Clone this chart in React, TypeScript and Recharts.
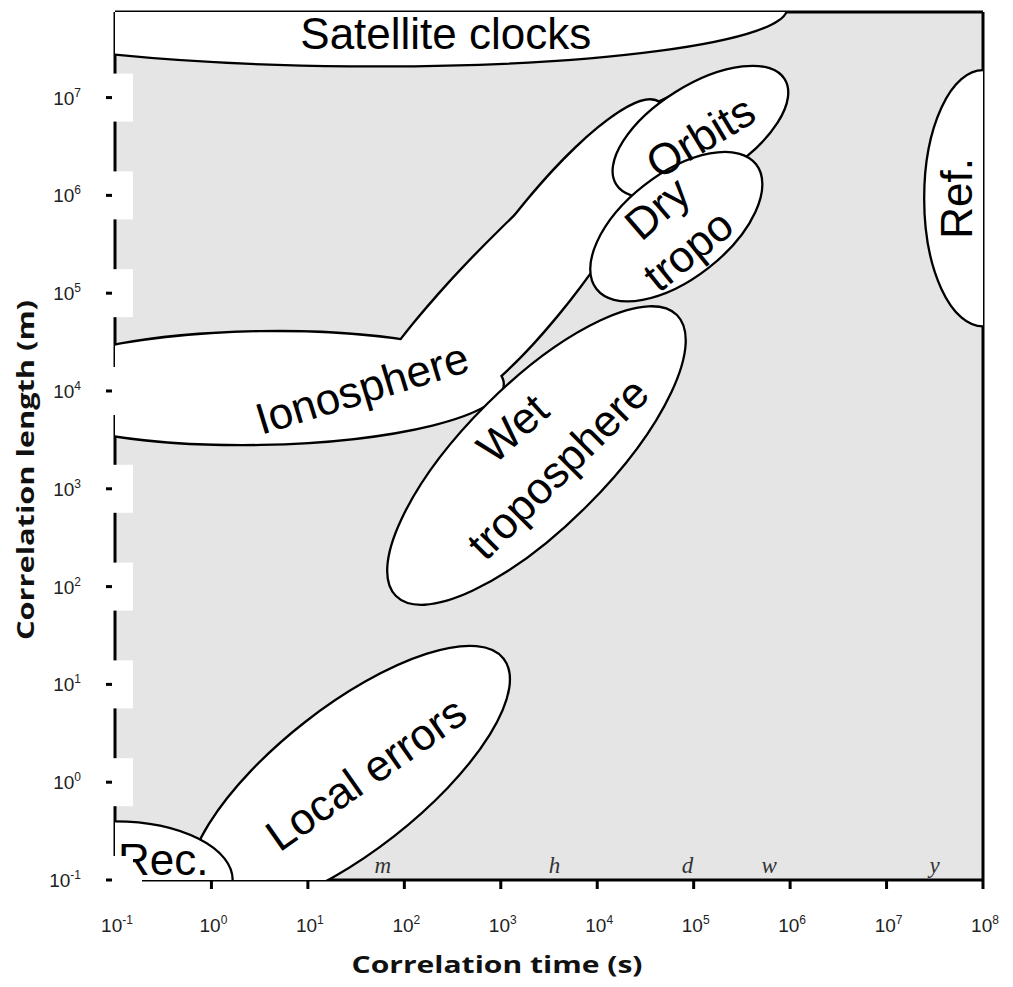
import React from 'react';
import * as Recharts from 'recharts';

const { ComposedChart, Scatter, XAxis, YAxis, CartesianGrid, ReferenceLine } = Recharts;
const R: any = Recharts;

// ---- axes (log10 units) ----
const T_MIN = -1;
const T_MAX = 8;
const L_MIN = -1;
const L_MAX = 7.875;
const T_TICKS = [-1, 0, 1, 2, 3, 4, 5, 6, 7, 8];
const L_TICKS = [-1, 0, 1, 2, 3, 4, 5, 6, 7];

// ---- error sources: centre (log10 s, log10 m), semi-axes in decades, tilt in degrees ----
const SOURCES = ['Orbits', 'Dry tropo', 'Wet troposphere', 'Local errors', 'Satellite clocks', 'Ref.', 'Rec.'];
const CENTER_T = [5.07, 4.82, 3.37, 1.43, 1.44, 8.0, -1.0];
const CENTER_L = [6.65, 5.68, 3.34, 0.03, 7.95, 5.97, -1.0];
const SEMI_MAJOR = [1.03, 1.05, 2.06, 2.03, 4.53, 0.61, 1.22];
const SEMI_MINOR = [0.48, 0.535, 0.73, 0.74, 0.63, 1.31, 0.6];
const TILT = [-32, -38, -45, -38, 0.5, 0, 0];

// ionosphere region = union of three lobes
const IONO_T = [0.5, 3.425, 3.27];
const IONO_L = [4.03, 5.354, 5.36];
const IONO_MAJOR = [2.52, 2.02, 2.39];
const IONO_MINOR = [0.57, 0.48, 0.39];
const IONO_TILT = [-1, -53, -44.5];

// region labels
const LABELS = ['Satellite clocks', 'Ionosphere', 'Orbits', 'Dry', 'tropo', 'Wet', 'troposphere', 'Local errors', 'Rec.', 'Ref.'];
const LABEL_T = [2.43, 1.56, 5.07, 4.62, 4.94, 3.12, 3.59, 1.6, -0.5, 7.73];
const LABEL_L = [7.66, 4.03, 6.6, 5.87, 5.44, 3.62, 3.21, 0.09, -0.79, 5.97];
const LABEL_TILT = [0, -17, -31, -41, -39, -42, -45, -35, 0, -90];

// time units marked along the bottom
const UNITS = ['m', 'h', 'd', 'w', 'y'];
const UNIT_SECONDS = [60, 3600, 86400, 604800, 31557600];

// ---- layout ----
const CHART_W = 997;
const CHART_H = 971;
const MARGIN = { top: 4, right: 22, bottom: 0, left: 0 };
const Y_AXIS_W = 107;
const X_AXIS_H = 99;
const SANS = '"Liberation Sans", Arial, Helvetica, sans-serif';
const TITLE_FONT = '"Open Sans", "Liberation Sans", sans-serif';
const GREY = '#e5e5e5';

function usePixelsPerDecade() {
  const area = R.usePlotArea ? R.usePlotArea() : null;
  const w = area && area.width ? area.width : CHART_W - MARGIN.left - MARGIN.right - Y_AXIS_W;
  const h = area && area.height ? area.height : CHART_H - MARGIN.top - MARGIN.bottom - X_AXIS_H;
  return { kx: w / (T_MAX - T_MIN), ky: h / (L_MAX - L_MIN) };
}

function Blob({ cx, cy, payload, pass }: any) {
  const { kx, ky } = usePixelsPerDecade();
  if (cx == null || cy == null) return null;
  const common = {
    cx,
    cy,
    rx: payload.a * kx,
    ry: payload.b * ky,
    transform: `rotate(${payload.tilt} ${cx} ${cy})`,
  };
  if (pass === 'outline') return <ellipse {...common} fill="none" stroke="#000" strokeWidth={4.6} />;
  if (pass === 'fill') return <ellipse {...common} fill="#fff" stroke="none" />;
  return <ellipse {...common} fill="#fff" stroke="#000" strokeWidth={2.3} />;
}

function RegionLabel({ cx, cy, payload }: any) {
  if (cx == null || cy == null) return null;
  return (
    <text
      x={cx}
      y={cy}
      textAnchor="middle"
      dominantBaseline="central"
      fontFamily={SANS}
      fontSize={44}
      fill="#000"
      transform={`rotate(${payload.tilt} ${cx} ${cy})`}
    >
      {payload.text}
    </text>
  );
}

function UnitMark({ cx, cy, payload }: any) {
  if (cx == null || cy == null) return null;
  return (
    <text
      x={cx}
      y={cy - 7}
      textAnchor="middle"
      fontFamily='"Liberation Serif", "DejaVu Serif", serif'
      fontStyle="italic"
      fontSize={23}
      fill="#333"
    >
      {payload.unit}
    </text>
  );
}

function TimeTick({ x, y, payload }: any) {
  const v = payload.value;
  return (
    <g>
      {v === T_MIN ? (
        <rect x={x - 3} y={y - 4} width={30} height={8} fill="#fff" />
      ) : (
        <line x1={x} x2={x} y1={y} y2={y + 9} stroke="#000" strokeWidth={3} />
      )}
      <text x={x + 2} y={y + 52} textAnchor="middle" fontFamily={SANS} fontSize={19} fill="#222">
        10
        <tspan dy={-8} fontSize={12}>{v}</tspan>
      </text>
    </g>
  );
}

function LengthTick({ x, y, payload }: any) {
  const v = payload.value;
  return (
    <g>
      <rect x={x - 3} y={y - 24} width={21} height={48} fill="#fff" />
      <line x1={x - 9} x2={x - 3} y1={y} y2={y} stroke="#000" strokeWidth={3} />
      <text x={x - 34} y={y + 7} textAnchor="end" fontFamily={SANS} fontSize={19} fill="#222">
        10
        <tspan dy={-8} fontSize={12}>{v}</tspan>
      </text>
    </g>
  );
}

function TimeTitle({ viewBox }: any) {
  const vb = viewBox || {};
  return (
    <text
      x={vb.x + vb.width / 2 - 52}
      y={vb.y + 93}
      textAnchor="middle"
      fontFamily={TITLE_FONT}
      fontWeight={700}
      fontSize={24}
      textLength={291}
      lengthAdjust="spacingAndGlyphs"
      fill="#111"
    >
      Correlation time (s)
    </text>
  );
}

function LengthTitle({ viewBox }: any) {
  const vb = viewBox || {};
  const x = vb.x + 26;
  const y = 462;
  return (
    <text
      x={x}
      y={y}
      textAnchor="middle"
      fontFamily={TITLE_FONT}
      fontWeight={700}
      fontSize={24}
      textLength={340}
      lengthAdjust="spacingAndGlyphs"
      fill="#111"
      transform={`rotate(-90 ${x} ${y})`}
    >
      Correlation length (m)
    </text>
  );
}

export default function App() {
  const ionosphere = IONO_T.map((t, i) => ({
    t,
    l: IONO_L[i],
    a: IONO_MAJOR[i],
    b: IONO_MINOR[i],
    tilt: IONO_TILT[i],
  }));
  const sources = SOURCES.map((name, i) => ({
    name,
    t: CENTER_T[i],
    l: CENTER_L[i],
    a: SEMI_MAJOR[i],
    b: SEMI_MINOR[i],
    tilt: TILT[i],
  }));
  const labels = LABELS.map((text, i) => ({ text, t: LABEL_T[i], l: LABEL_L[i], tilt: LABEL_TILT[i] }));
  const units = UNITS.map((unit, i) => ({ unit, t: Math.log10(UNIT_SECONDS[i]), l: L_MIN }));

  return (
    <ComposedChart width={CHART_W} height={CHART_H} margin={MARGIN}>
      <CartesianGrid fill={GREY} horizontal={false} vertical={false} />
      <Scatter data={ionosphere} shape={(p: any) => <Blob {...p} pass="outline" />} isAnimationActive={false} />
      <Scatter data={ionosphere} shape={(p: any) => <Blob {...p} pass="fill" />} isAnimationActive={false} />
      <Scatter data={sources} shape={(p: any) => <Blob {...p} pass="both" />} isAnimationActive={false} />
      <Scatter data={labels} shape={(p: any) => <RegionLabel {...p} />} isAnimationActive={false} />
      <Scatter data={units} shape={(p: any) => <UnitMark {...p} />} isAnimationActive={false} />
      <ReferenceLine y={L_MAX} stroke="#000" strokeWidth={3} />
      <ReferenceLine x={T_MAX} stroke="#000" strokeWidth={3} />
      <XAxis
        type="number"
        dataKey="t"
        domain={[T_MIN, T_MAX]}
        ticks={T_TICKS}
        allowDataOverflow
        height={X_AXIS_H}
        tickSize={0}
        tickMargin={0}
        tickLine={false}
        axisLine={{ stroke: '#000', strokeWidth: 3 }}
        tick={<TimeTick />}
        interval={0}
        label={{ content: (p: any) => <TimeTitle {...p} /> }}
      />
      <YAxis
        type="number"
        dataKey="l"
        domain={[L_MIN, L_MAX]}
        ticks={L_TICKS}
        allowDataOverflow
        width={Y_AXIS_W}
        tickSize={0}
        tickMargin={0}
        tickLine={false}
        axisLine={{ stroke: '#000', strokeWidth: 3 }}
        tick={<LengthTick />}
        interval={0}
        label={{ content: (p: any) => <LengthTitle {...p} /> }}
      />
    </ComposedChart>
  );
}
